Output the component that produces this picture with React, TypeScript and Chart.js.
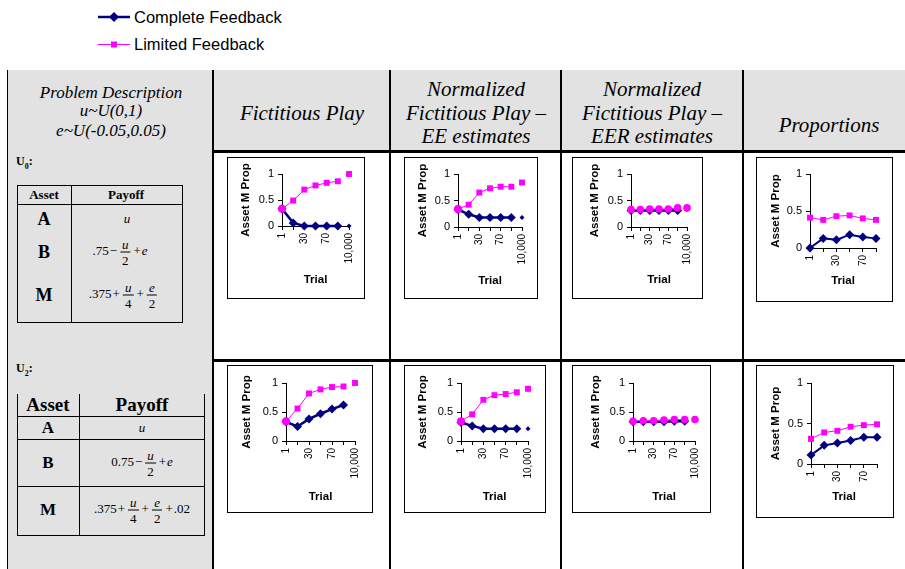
import React, { useEffect, useRef } from 'react';
import { Chart, registerables } from 'chart.js';

Chart.register(...registerables);

// ---------- data ----------
const trialLabels = ['1', '10', '30', '50', '70', '90', '10,000'];
const proportionTrialLabels = ['1', '10', '30', '50', '70', '90'];
const seriesNames = ['Complete Feedback', 'Limited Feedback'];
const yAxisTitle = 'Asset M Prop';
const xAxisTitle = 'Trial';

// U0 row
const u0FictitiousComplete = [0.33, 0.06, 0, 0, 0, 0, 0];
const u0FictitiousLimited = [0.33, 0.49, 0.7, 0.78, 0.83, 0.86, 1.0];
const u0EEComplete = [0.33, 0.24, 0.18, 0.18, 0.18, 0.18, 0.18];
const u0EELimited = [0.34, 0.42, 0.65, 0.73, 0.76, 0.76, 0.84];
const u0EERComplete = [0.31, 0.31, 0.31, 0.31, 0.31, 0.31, 0.33];
const u0EERLimited = [0.33, 0.33, 0.34, 0.34, 0.34, 0.36, 0.36];
const u0PropComplete = [0, 0.13, 0.11, 0.18, 0.15, 0.13];
const u0PropLimited = [0.41, 0.38, 0.43, 0.44, 0.4, 0.38];

// U2 row
const u2FictitiousComplete = [0.33, 0.25, 0.38, 0.47, 0.55, 0.62, null];
const u2FictitiousLimited = [0.34, 0.56, 0.82, 0.89, 0.93, 0.94, 1.0];
const u2EEComplete = [0.32, 0.26, 0.21, 0.21, 0.21, 0.21, 0.21];
const u2EELimited = [0.34, 0.46, 0.71, 0.79, 0.81, 0.84, 0.9];
const u2EERComplete = [0.33, 0.33, 0.33, 0.33, 0.34, 0.34, 0.35];
const u2EERLimited = [0.34, 0.35, 0.35, 0.36, 0.37, 0.37, 0.37];
const u2PropComplete = [0.11, 0.23, 0.26, 0.29, 0.33, 0.33];
const u2PropLimited = [0.31, 0.39, 0.41, 0.46, 0.48, 0.49];

// ---------- styles ----------
const NAVY = '#000080';
const MAGENTA = '#FF00FF';
const SANS = "'Liberation Sans', Arial, sans-serif";
const SERIF = "'Liberation Serif', 'Times New Roman', serif";
const GRAY = '#e2e2e2';

type Kind = 'fp' | 'eer' | 'prop';
type Spec = {
  labels: string[];
  complete: (number | null)[];
  limited: (number | null)[];
  box: number[]; // l t r b
  plot: number[]; // l t r b
  yTitleX: number;
  xTitleY: number;
  kind: Kind;
};

const specs: Spec[] = [
  { labels: trialLabels, complete: u0FictitiousComplete, limited: u0FictitiousLimited, box: [227, 157, 364, 298], plot: [282, 174, 349, 226], yTitleX: 246, xTitleY: 280, kind: 'fp' },
  { labels: trialLabels, complete: u0EEComplete, limited: u0EELimited, box: [404, 157, 537, 298], plot: [458, 174, 522, 227], yTitleX: 423, xTitleY: 281, kind: 'fp' },
  { labels: trialLabels, complete: u0EERComplete, limited: u0EERLimited, box: [572, 157, 702, 298], plot: [631, 174, 694, 227], yTitleX: 595, xTitleY: 280, kind: 'eer' },
  { labels: proportionTrialLabels, complete: u0PropComplete, limited: u0PropLimited, box: [756, 157, 892, 301], plot: [810, 174, 876, 248], yTitleX: 776, xTitleY: 281, kind: 'prop' },
  { labels: trialLabels, complete: u2FictitiousComplete, limited: u2FictitiousLimited, box: [227, 365, 372, 512], plot: [286, 383, 355, 441], yTitleX: 247, xTitleY: 497, kind: 'fp' },
  { labels: trialLabels, complete: u2EEComplete, limited: u2EELimited, box: [404, 365, 545, 512], plot: [461, 383, 528, 441], yTitleX: 423, xTitleY: 497, kind: 'fp' },
  { labels: trialLabels, complete: u2EERComplete, limited: u2EERLimited, box: [572, 365, 710, 512], plot: [633, 383, 700, 441], yTitleX: 596, xTitleY: 497, kind: 'eer' },
  { labels: proportionTrialLabels, complete: u2PropComplete, limited: u2PropLimited, box: [756, 365, 893, 517], plot: [811, 383, 877, 464], yTitleX: 776, xTitleY: 497, kind: 'prop' },
];

function MiniChart({ spec }: { spec: Spec }) {
  const ref = useRef<HTMLCanvasElement | null>(null);
  const [bl, bt, br, bb] = spec.box;
  const cL = bl + 1;
  const cT = bt + 1;
  const cW = br - bl - 1;
  const cH = bb - bt - 1;

  useEffect(() => {
    if (!ref.current) return;
    const [pl, pt, pr, pb] = spec.plot;
    const n = spec.labels.length;
    const gapLast = spec.kind !== 'prop';
    const titleSize = 11.5;
    const lh = titleSize * 1.2;
    const titleFont = { family: SANS, size: titleSize, weight: 'bold' as const, lineHeight: 1.2 };

    const completeRadius = spec.complete.map((_, i) => (gapLast && i === n - 1 ? 2.5 : 4.5));
    const limitedStyle = spec.limited.map((_, i) =>
      spec.kind === 'eer' ? 'circle' : spec.kind === 'fp' && i === 0 ? 'circle' : 'rect'
    );
    const limitedRadius = spec.limited.map((_, i) =>
      spec.kind === 'eer' ? 3.8 : spec.kind === 'fp' && i === 0 ? 4 : 4.2
    );
    const seg = (color: string) => ({
      borderColor: (ctx: any) => (gapLast && ctx.p1DataIndex === n - 1 ? 'rgba(0,0,0,0)' : color),
    });

    const axisGrid = {
      display: true,
      drawOnChartArea: false,
      drawTicks: true,
      tickLength: 4,
      color: '#000',
      lineWidth: 1,
    };

    const chart = new Chart(ref.current, {
      type: 'line',
      data: {
        labels: spec.labels,
        datasets: [
          {
            label: seriesNames[0],
            data: spec.complete,
            borderColor: NAVY,
            backgroundColor: NAVY,
            borderWidth: spec.kind === 'prop' ? 2 : 2.5,
            pointStyle: 'rectRot',
            pointRadius: completeRadius,
            pointBorderWidth: 0,
            pointBackgroundColor: NAVY,
            tension: 0,
            spanGaps: false,
            segment: seg(NAVY),
            order: 2,
            clip: false,
          } as any,
          {
            label: seriesNames[1],
            data: spec.limited,
            borderColor: MAGENTA,
            backgroundColor: MAGENTA,
            borderWidth: 1,
            pointStyle: limitedStyle,
            pointRadius: limitedRadius,
            pointBorderWidth: 0,
            pointBackgroundColor: MAGENTA,
            tension: 0,
            spanGaps: false,
            segment: seg(MAGENTA),
            order: 1,
            clip: false,
          } as any,
        ],
      },
      options: {
        animation: false,
        responsive: false,
        maintainAspectRatio: false,
        events: [],
        layout: { padding: { top: pt - cT, right: cL + cW - pr, left: 0, bottom: 0 } },
        plugins: { legend: { display: false }, tooltip: { enabled: false } },
        scales: {
          x: {
            type: 'category',
            offset: false,
            grid: axisGrid,
            border: { display: true, color: '#000', width: 1 },
            ticks: {
              autoSkip: false,
              minRotation: 90,
              maxRotation: 90,
              padding: 3,
              color: '#000',
              font: { family: SANS, size: 10 },
              callback: function (this: any, v: any, i: number) {
                return i % 2 === 0 ? this.getLabelForValue(v) : '';
              },
            },
            title: {
              display: true,
              text: xAxisTitle,
              color: '#000',
              font: titleFont,
              padding: { top: 0, bottom: cT + cH - spec.xTitleY - lh / 2 },
            },
            afterFit: (s: any) => {
              s.height = cT + cH - pb;
            },
          },
          y: {
            min: 0,
            max: 1,
            grid: axisGrid,
            border: { display: true, color: '#000', width: 1 },
            ticks: {
              stepSize: 0.5,
              padding: 4,
              color: '#000',
              font: { family: SANS, size: 11 },
              callback: (v: any) => String(Number(v)),
            },
            title: {
              display: true,
              text: yAxisTitle,
              color: '#000',
              font: titleFont,
              padding: { top: spec.yTitleX - cL - lh / 2, bottom: 0 },
            },
            afterFit: (s: any) => {
              s.width = pl - cL;
            },
          },
        },
      } as any,
    });
    return () => chart.destroy();
  }, []);

  return (
    <>
      <div
        style={{
          position: 'absolute',
          left: bl,
          top: bt,
          width: br - bl + 1,
          height: bb - bt + 1,
          border: '1px solid #000',
          boxSizing: 'border-box',
          background: '#fff',
        }}
      />
      <canvas
        ref={ref}
        width={cW}
        height={cH}
        style={{ position: 'absolute', left: cL, top: cT, width: cW, height: cH }}
      />
    </>
  );
}

function Txt(props: {
  x: number;
  y: number;
  size: number;
  font?: string;
  bold?: boolean;
  italic?: boolean;
  left?: boolean;
  children: React.ReactNode;
}) {
  const { x, y, size, font = SERIF, bold, italic, left, children } = props;
  return (
    <div
      style={{
        position: 'absolute',
        left: x,
        top: y,
        transform: left ? 'translate(0,-50%)' : 'translate(-50%,-50%)',
        whiteSpace: 'nowrap',
        fontFamily: font,
        fontSize: size,
        fontWeight: bold ? 'bold' : 'normal',
        fontStyle: italic ? 'italic' : 'normal',
        lineHeight: 1.15,
        color: '#000',
      }}
    >
      {children}
    </div>
  );
}

function Line({ x, y, w, h, c = '#000' }: { x: number; y: number; w: number; h: number; c?: string }) {
  return <div style={{ position: 'absolute', left: x, top: y, width: w, height: h, background: c }} />;
}

function Frac({ n, d }: { n: React.ReactNode; d: React.ReactNode }) {
  return (
    <span
      style={{
        display: 'inline-flex',
        flexDirection: 'column',
        alignItems: 'center',
        verticalAlign: 'middle',
        lineHeight: 1,
        margin: '0 2px',
      }}
    >
      <span style={{ padding: '0 2px 1px' }}>{n}</span>
      <span style={{ borderTop: '1px solid #000', padding: '1px 2px 0', alignSelf: 'stretch', textAlign: 'center' }}>{d}</span>
    </span>
  );
}

const I = ({ children }: { children: React.ReactNode }) => <i>{children}</i>;
const Op = ({ children }: { children: React.ReactNode }) => <span style={{ margin: '0 1px' }}>{children}</span>;

export default function App() {
  return (
    <div
      style={{
        position: 'absolute',
        left: 0,
        top: 0,
        width: 905,
        height: 569,
        overflow: 'hidden',
        background: '#fff',
      }}
    >
      {/* legend */}
      <svg style={{ position: 'absolute', left: 0, top: 0 }} width={300} height={60}>
        <line x1={98} y1={17} x2={130} y2={17} stroke={NAVY} strokeWidth={2.5} />
        <polygon points="114,12 119,17 114,22 109,17" fill={NAVY} />
        <line x1={98} y1={44.5} x2={130} y2={44.5} stroke={MAGENTA} strokeWidth={1} />
        <rect x={111} y={41.5} width={6} height={6} fill={MAGENTA} />
      </svg>
      <Txt x={134} y={17} size={16.5} font={SANS} left>
        {seriesNames[0]}
      </Txt>
      <Txt x={134} y={44} size={16.5} font={SANS} left>
        {seriesNames[1]}
      </Txt>

      {/* table backgrounds */}
      <Line x={7} y={70} w={910} h={81} c={GRAY} />
      <Line x={7} y={151} w={206} h={420} c={GRAY} />

      {/* table lines */}
      <Line x={7} y={70} w={1} h={500} />
      <Line x={212} y={70} w={2} h={500} />
      <Line x={389} y={70} w={2} h={500} />
      <Line x={560} y={70} w={2} h={500} />
      <Line x={742} y={70} w={2} h={500} />
      <Line x={212} y={150} w={700} h={3} />
      <Line x={212} y={359} w={700} h={3} />

      {/* header texts */}
      <Txt x={111} y={93} size={17} italic>Problem Description</Txt>
      <Txt x={111} y={111} size={17} italic>u~U(0,1)</Txt>
      <Txt x={111} y={131} size={17} italic>e~U(-0.05,0.05)</Txt>

      <Txt x={302} y={113} size={21} italic>Fictitious Play</Txt>

      <Txt x={476} y={89} size={21} italic>Normalized</Txt>
      <Txt x={476} y={113} size={21} italic>Fictitious Play –</Txt>
      <Txt x={476} y={136} size={21} italic>EE estimates</Txt>

      <Txt x={652} y={89} size={21} italic>Normalized</Txt>
      <Txt x={652} y={113} size={21} italic>Fictitious Play –</Txt>
      <Txt x={652} y={136} size={21} italic>EER estimates</Txt>

      <Txt x={829} y={125} size={21} italic>Proportions</Txt>

      {/* U0 description */}
      <Txt x={16} y={163} size={12} bold left>
        U<sub style={{ fontSize: 8 }}>0</sub>:
      </Txt>
      <div
        style={{
          position: 'absolute',
          left: 17,
          top: 185,
          width: 166,
          height: 138,
          border: '1px solid #000',
          boxSizing: 'border-box',
        }}
      />
      <Line x={71} y={185} w={1} h={138} />
      <Line x={17} y={204} w={166} h={1} />
      <Txt x={44} y={195} size={13} bold>Asset</Txt>
      <Txt x={126} y={195} size={13} bold>Payoff</Txt>
      <Txt x={44} y={219} size={18} bold>A</Txt>
      <Txt x={127} y={219} size={13} italic>u</Txt>
      <Txt x={44} y={252} size={18} bold>B</Txt>
      <Txt x={120} y={252} size={13}>
        .75<Op>−</Op><Frac n={<I>u</I>} d="2" /><Op>+</Op><I>e</I>
      </Txt>
      <Txt x={44} y={295} size={18} bold>M</Txt>
      <Txt x={124} y={295} size={13}>
        .375<Op>+</Op><Frac n={<I>u</I>} d="4" /><Op>+</Op><Frac n={<I>e</I>} d="2" />
      </Txt>

      {/* U2 description */}
      <Txt x={16} y={370} size={12} bold left>
        U<sub style={{ fontSize: 8 }}>2</sub>:
      </Txt>
      <Line x={17} y={394} w={1} h={142} />
      <Line x={79} y={394} w={1} h={142} />
      <Line x={204} y={394} w={1} h={142} />
      <Line x={17} y={416} w={188} h={1} />
      <Line x={17} y={439} w={188} h={1} />
      <Line x={17} y={486} w={188} h={1} />
      <Line x={17} y={535} w={188} h={1} />
      <Txt x={48} y={405} size={19} bold>Asset</Txt>
      <Txt x={142} y={405} size={19} bold>Payoff</Txt>
      <Txt x={48} y={428} size={17} bold>A</Txt>
      <Txt x={142} y={428} size={13} italic>u</Txt>
      <Txt x={48} y={463} size={17} bold>B</Txt>
      <Txt x={142} y={463} size={13}>
        0.75<Op>−</Op><Frac n={<I>u</I>} d="2" /><Op>+</Op><I>e</I>
      </Txt>
      <Txt x={48} y={510} size={17} bold>M</Txt>
      <Txt x={142} y={510} size={13}>
        .375<Op>+</Op><Frac n={<I>u</I>} d="4" /><Op>+</Op><Frac n={<I>e</I>} d="2" /><Op>+</Op>.02
      </Txt>

      {/* charts */}
      {specs.map((s, i) => (
        <MiniChart key={i} spec={s} />
      ))}
    </div>
  );
}
